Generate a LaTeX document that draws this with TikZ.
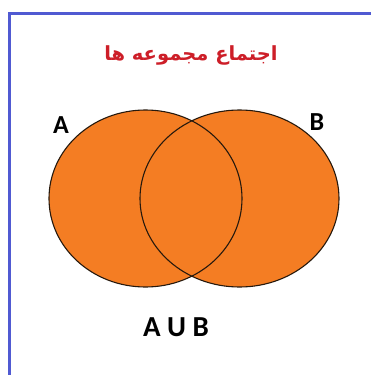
\documentclass[tikz,border=0pt]{standalone}
\usepackage{fontspec}
\setmainfont{Carlito}
\newfontfamily\arabicfont[Script=Arabic]{DejaVu Sans}
\TeXXeTstate=1
\definecolor{vennorange}{RGB}{244,125,35}
\definecolor{framblue}{RGB}{80,90,210}
\definecolor{titlered}{RGB}{205,30,40}
\tikzset{
  setline/.style={draw=black!80!brown, line width=1.1pt},
  setlabel/.style={font=\bfseries\fontsize{26}{28}\selectfont, inner sep=0pt},
}
\begin{document}
\begin{tikzpicture}[x=1pt,y=-1pt]
\useasboundingbox (0,0) rectangle (371,375);
\fill[white] (0,0) rectangle (371,375);
\draw[framblue, line width=3pt] (9,380) -- (9,13) -- (380,13);
\node[text=titlered, inner sep=0pt] (title) at (191,55) {\arabicfont\bfseries\fontsize{19.5}{24}\selectfont\beginR اجتماع مجموعه ها\endR};
\fill[vennorange] (145.5,198.5) ellipse [x radius=96.5, y radius=88.5];
\fill[vennorange] (239.5,198.5) ellipse [x radius=99.5, y radius=88.5];
\draw[setline] (145.5,198.5) ellipse [x radius=96.5, y radius=88.5];
\draw[setline] (239.5,198.5) ellipse [x radius=99.5, y radius=88.5];
\node[setlabel] (la) at (61,125) {A};
\node[setlabel] (lb) at (317,122) {B};
\node[font=\bfseries\fontsize{29}{32}\selectfont, inner sep=0pt] (union) at (176,327) {A U B};
\end{tikzpicture}
\end{document}
